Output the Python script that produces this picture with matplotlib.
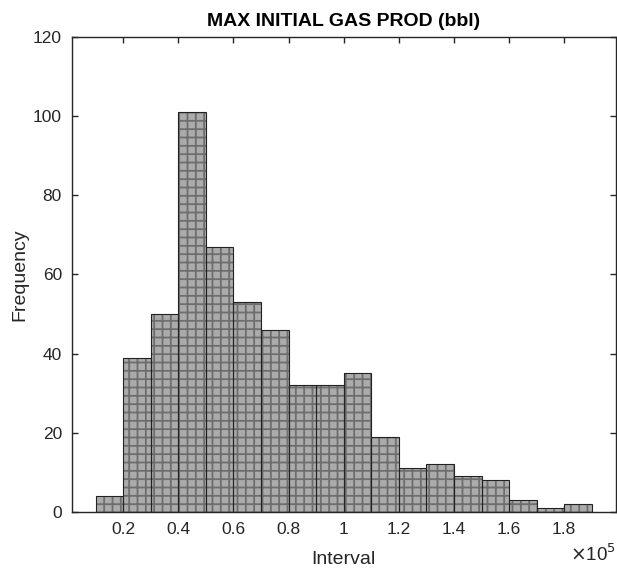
import numpy as np
import matplotlib
matplotlib.use("Agg")
import matplotlib.pyplot as plt
from matplotlib.ticker import FuncFormatter

plt.rcParams['font.family'] = ['Liberation Sans', 'DejaVu Sans']
plt.rcParams['hatch.linewidth'] = 1.3

bin_edges = [10000, 20000, 30000, 40000, 50000, 60000, 70000, 80000, 90000, 100000,
             110000, 120000, 130000, 140000, 150000, 160000, 170000, 180000, 190000]
counts = [4, 39, 50, 101, 67, 53, 46, 32, 32, 35, 19, 11, 12, 9, 8, 3, 1, 2]
x_ticks = [20000, 40000, 60000, 80000, 100000, 120000, 140000, 160000, 180000]
y_ticks = [0, 20, 40, 60, 80, 100, 120]

title = "MAX INITIAL GAS PROD (bbl)"
xlabel = "Interval"
ylabel = "Frequency"

edges = np.array(bin_edges, dtype=float)
lefts = edges[:-1]
widths = np.diff(edges)

fig = plt.figure(figsize=(6.17, 5.75), dpi=100)
ax = fig.add_axes([0.1162, 0.1096, 0.998 - 0.1162, 0.9357 - 0.1096])

ax.bar(lefts, counts, width=widths, align='edge', facecolor='#ababab',
       edgecolor='#6e6e6e', linewidth=0, hatch='++', zorder=2)
ax.bar(lefts, counts, width=widths, align='edge', fill=False,
       edgecolor='#222222', linewidth=0.8, zorder=3)

ax.set_xlim(100000 - 98700, 100000 + 98700)
ax.set_ylim(0, 120)
ax.set_xticks(x_ticks)
ax.set_yticks(y_ticks)
ax.xaxis.set_major_formatter(FuncFormatter(lambda v, p: f"{v/1e5:g}"))

for s in ax.spines.values():
    s.set_color('#262626')
    s.set_linewidth(1.0)
ax.tick_params(direction='in', length=4.5, width=1.0, color='#262626',
               top=True, right=True, labelsize=12.5, labelcolor='#262626', pad=7)

ax.set_title(title, fontsize=14, fontweight='bold', pad=8, color='black')
ax.set_xlabel(xlabel, fontsize=14, color='#262626', labelpad=10)
ax.set_ylabel(ylabel, fontsize=14, color='#262626', labelpad=3)

ax.text(1.0, -0.09, r"$\times$10$^5$", transform=ax.transAxes, ha='right', va='center',
        fontsize=13.5, color='#262626')

fig.savefig("out.png", dpi=100)
